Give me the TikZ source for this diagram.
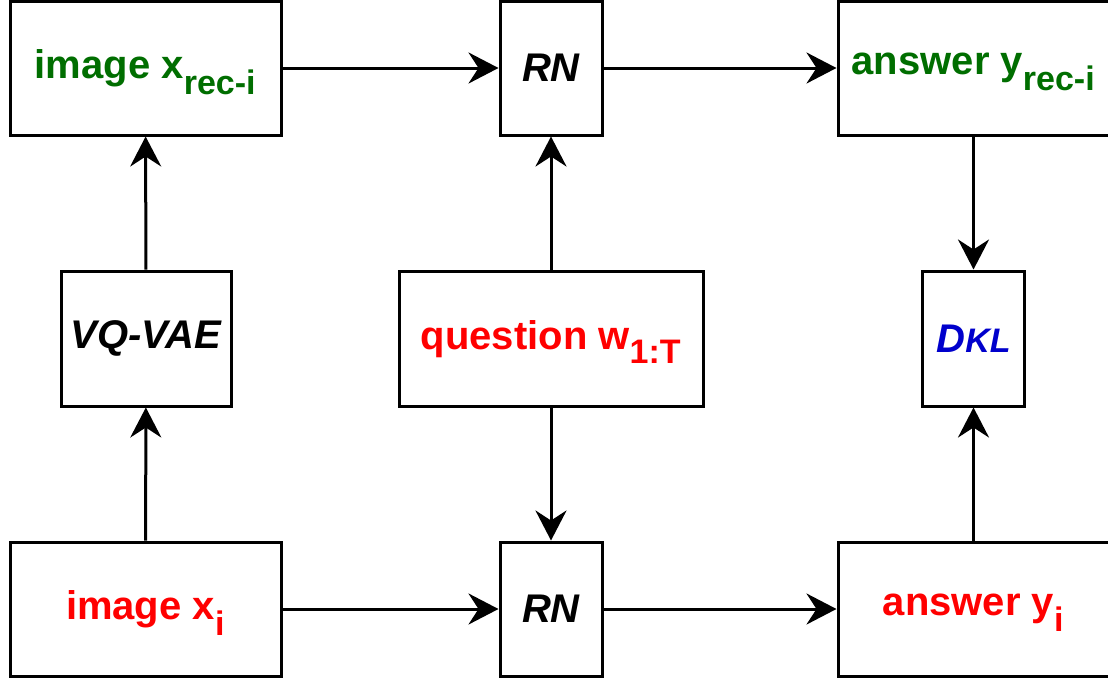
\documentclass[tikz,border=0pt]{standalone}
\usepackage{fontspec}
\setmainfont{Liberation Sans}
\usetikzlibrary{arrows.meta}
\definecolor{recgreen}{RGB}{0,110,0}
\definecolor{inred}{RGB}{255,0,0}
\definecolor{klblue}{RGB}{0,0,204}
\newcommand{\lowsub}[1]{\textsubscript{\fontsize{34}{34}\selectfont #1}}
\begin{document}
\begin{tikzpicture}[x=1pt,y=-1pt,
  blk/.style={draw=black,line width=3pt,fill=white,inner sep=0pt,
    font=\fontsize{40}{48}\selectfont\bfseries},
  subbed/.style={text depth=8pt},
  link/.style={line width=3pt,-{Stealth[length=30pt,width=31pt,inset=10pt]}}]
  \useasboundingbox (0,0) rectangle (1108,681);
  % boxes placed by their centres and sizes
  \node[blk,subbed,minimum width=271pt,minimum height=134pt,text=recgreen] (xrec) at (145.5,68) {image x\lowsub{rec-i}};
  \node[blk,minimum width=102pt,minimum height=134pt] (rntop) at (551,68) {\itshape RN};
  \node[blk,subbed,minimum width=271pt,minimum height=134pt,text=recgreen] (yrec) at (973.5,68) {answer y\lowsub{rec-i}};
  \node[blk,minimum width=170pt,minimum height=135pt] (vq) at (146,338.5) {\itshape VQ-VAE};
  \node[blk,subbed,minimum width=304pt,minimum height=135pt,text=inred] (q) at (551,338.5) {question w\lowsub{1:T}};
  \node[blk,minimum width=102pt,minimum height=135pt,text=klblue] (kl) at (973.5,338.5) {\itshape D\fontsize{34}{34}\selectfont KL};
  \node[blk,subbed,minimum width=271pt,minimum height=134pt,text=inred] (xi) at (145.5,609) {image x\lowsub{i}};
  \node[blk,minimum width=102pt,minimum height=134pt] (rnbot) at (551,609) {\itshape RN};
  \node[blk,subbed,minimum width=271pt,minimum height=134pt,text=inred] (yi) at (973.5,609) {answer y\lowsub{i}};
  % connectors
  \draw[link] (xrec) -- (rntop);
  \draw[link] (rntop) -- (yrec);
  \draw[link] (vq) -- (xrec);
  \draw[link] (xi) -- (vq);
  \draw[link] (q) -- (rntop);
  \draw[link] (q) -- (rnbot);
  \draw[link] (xi) -- (rnbot);
  \draw[link] (rnbot) -- (yi);
  \draw[link] (yrec) -- (kl);
  \draw[link] (yi) -- (kl);
\end{tikzpicture}
\end{document}
